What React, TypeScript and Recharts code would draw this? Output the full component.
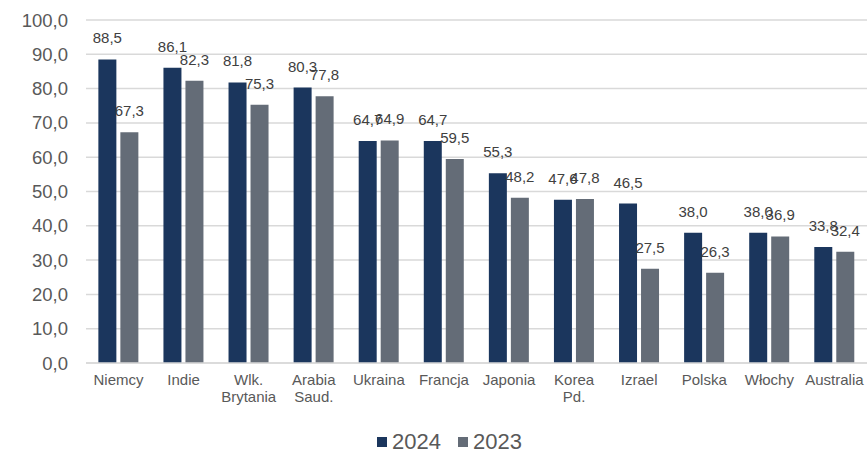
import { BarChart, Bar, XAxis, YAxis, CartesianGrid, Legend, LabelList } from 'recharts';

const countries = ['Niemcy', 'Indie', 'Wlk.\nBrytania', 'Arabia\nSaud.', 'Ukraina', 'Francja', 'Japonia', 'Korea\nPd.', 'Izrael', 'Polska', 'Włochy', 'Australia'];
const values2024 = [88.5, 86.1, 81.8, 80.3, 64.7, 64.7, 55.3, 47.6, 46.5, 38.0, 38.0, 33.8];
const values2023 = [67.3, 82.3, 75.3, 77.8, 64.9, 59.5, 48.2, 47.8, 27.5, 26.3, 36.9, 32.4];
const yTicks = [0, 10, 20, 30, 40, 50, 60, 70, 80, 90, 100];

const data = countries.map((name, i) => ({ name, y2024: values2024[i], y2023: values2023[i] }));

const fmt = (v: number) => v.toFixed(1).replace('.', ',');

const NAVY = '#1b365d';
const GREY = '#646c77';
const FONT = 'Liberation Sans, Arial, sans-serif';

const CountryTick = ({ x, y, payload }: any) => {
    const lines = String(payload.value).split('\n');
    return (
        <text x={x} y={y} textAnchor="middle" fill="#595959" fontSize={15} fontFamily={FONT}>
            {lines.map((line, i) => (
                <tspan key={i} x={x} dy={i === 0 ? 14 : 17}>{line}</tspan>
            ))}
        </text>
    );
};

// short legend box so it hugs the bottom edge
const LegendBox = () => (
    <div style={{ display: 'flex', justifyContent: 'center', alignItems: 'center', height: 23, lineHeight: '23px', paddingLeft: 32, fontFamily: FONT, fontSize: 22, color: '#595959' }}>
        <span style={{ width: 10, height: 10, background: NAVY, display: 'inline-block', marginRight: 5 }} />
        <span style={{ marginRight: 17 }}>2024</span>
        <span style={{ width: 10, height: 10, background: GREY, display: 'inline-block', marginRight: 5 }} />
        <span>2023</span>
    </div>
);

const App = () => {
    return (
        <div style={{ position: 'absolute', left: 0, top: 0, background: '#fff' }}>
            <BarChart
                width={867}
                height={453}
                data={data}
                margin={{ top: 20, right: 0, bottom: 0, left: 0 }}
                barCategoryGap="19%"
                barGap={4}
            >
                <CartesianGrid vertical={false} stroke="#d9d9d9" strokeWidth={1.5} />
                <XAxis
                    dataKey="name"
                    interval={0}
                    tickLine={false}
                    axisLine={{ stroke: '#d9d9d9', strokeWidth: 1.5 }}
                    height={67}
                    tick={<CountryTick />}
                />
                <YAxis
                    width={86}
                    domain={[0, 100]}
                    ticks={yTicks}
                    tickFormatter={fmt}
                    axisLine={false}
                    tickLine={false}
                    tickSize={0}
                    tickMargin={18}
                    tick={{ fill: '#595959', fontSize: 18.5, fontFamily: FONT }}
                />
                <Legend verticalAlign="bottom" content={<LegendBox />} wrapperStyle={{ bottom: 0 }} />
                <Bar dataKey="y2024" name="2024" fill={NAVY} isAnimationActive={false}>
                    <LabelList dataKey="y2024" position="top" offset={16} formatter={(v: any) => fmt(Number(v))} fill="#404040" fontSize={15} fontFamily={FONT} />
                </Bar>
                <Bar dataKey="y2023" name="2023" fill={GREY} isAnimationActive={false}>
                    <LabelList dataKey="y2023" position="top" offset={16} formatter={(v: any) => fmt(Number(v))} fill="#404040" fontSize={15} fontFamily={FONT} />
                </Bar>
            </BarChart>
        </div>
    );
};

export default App;
